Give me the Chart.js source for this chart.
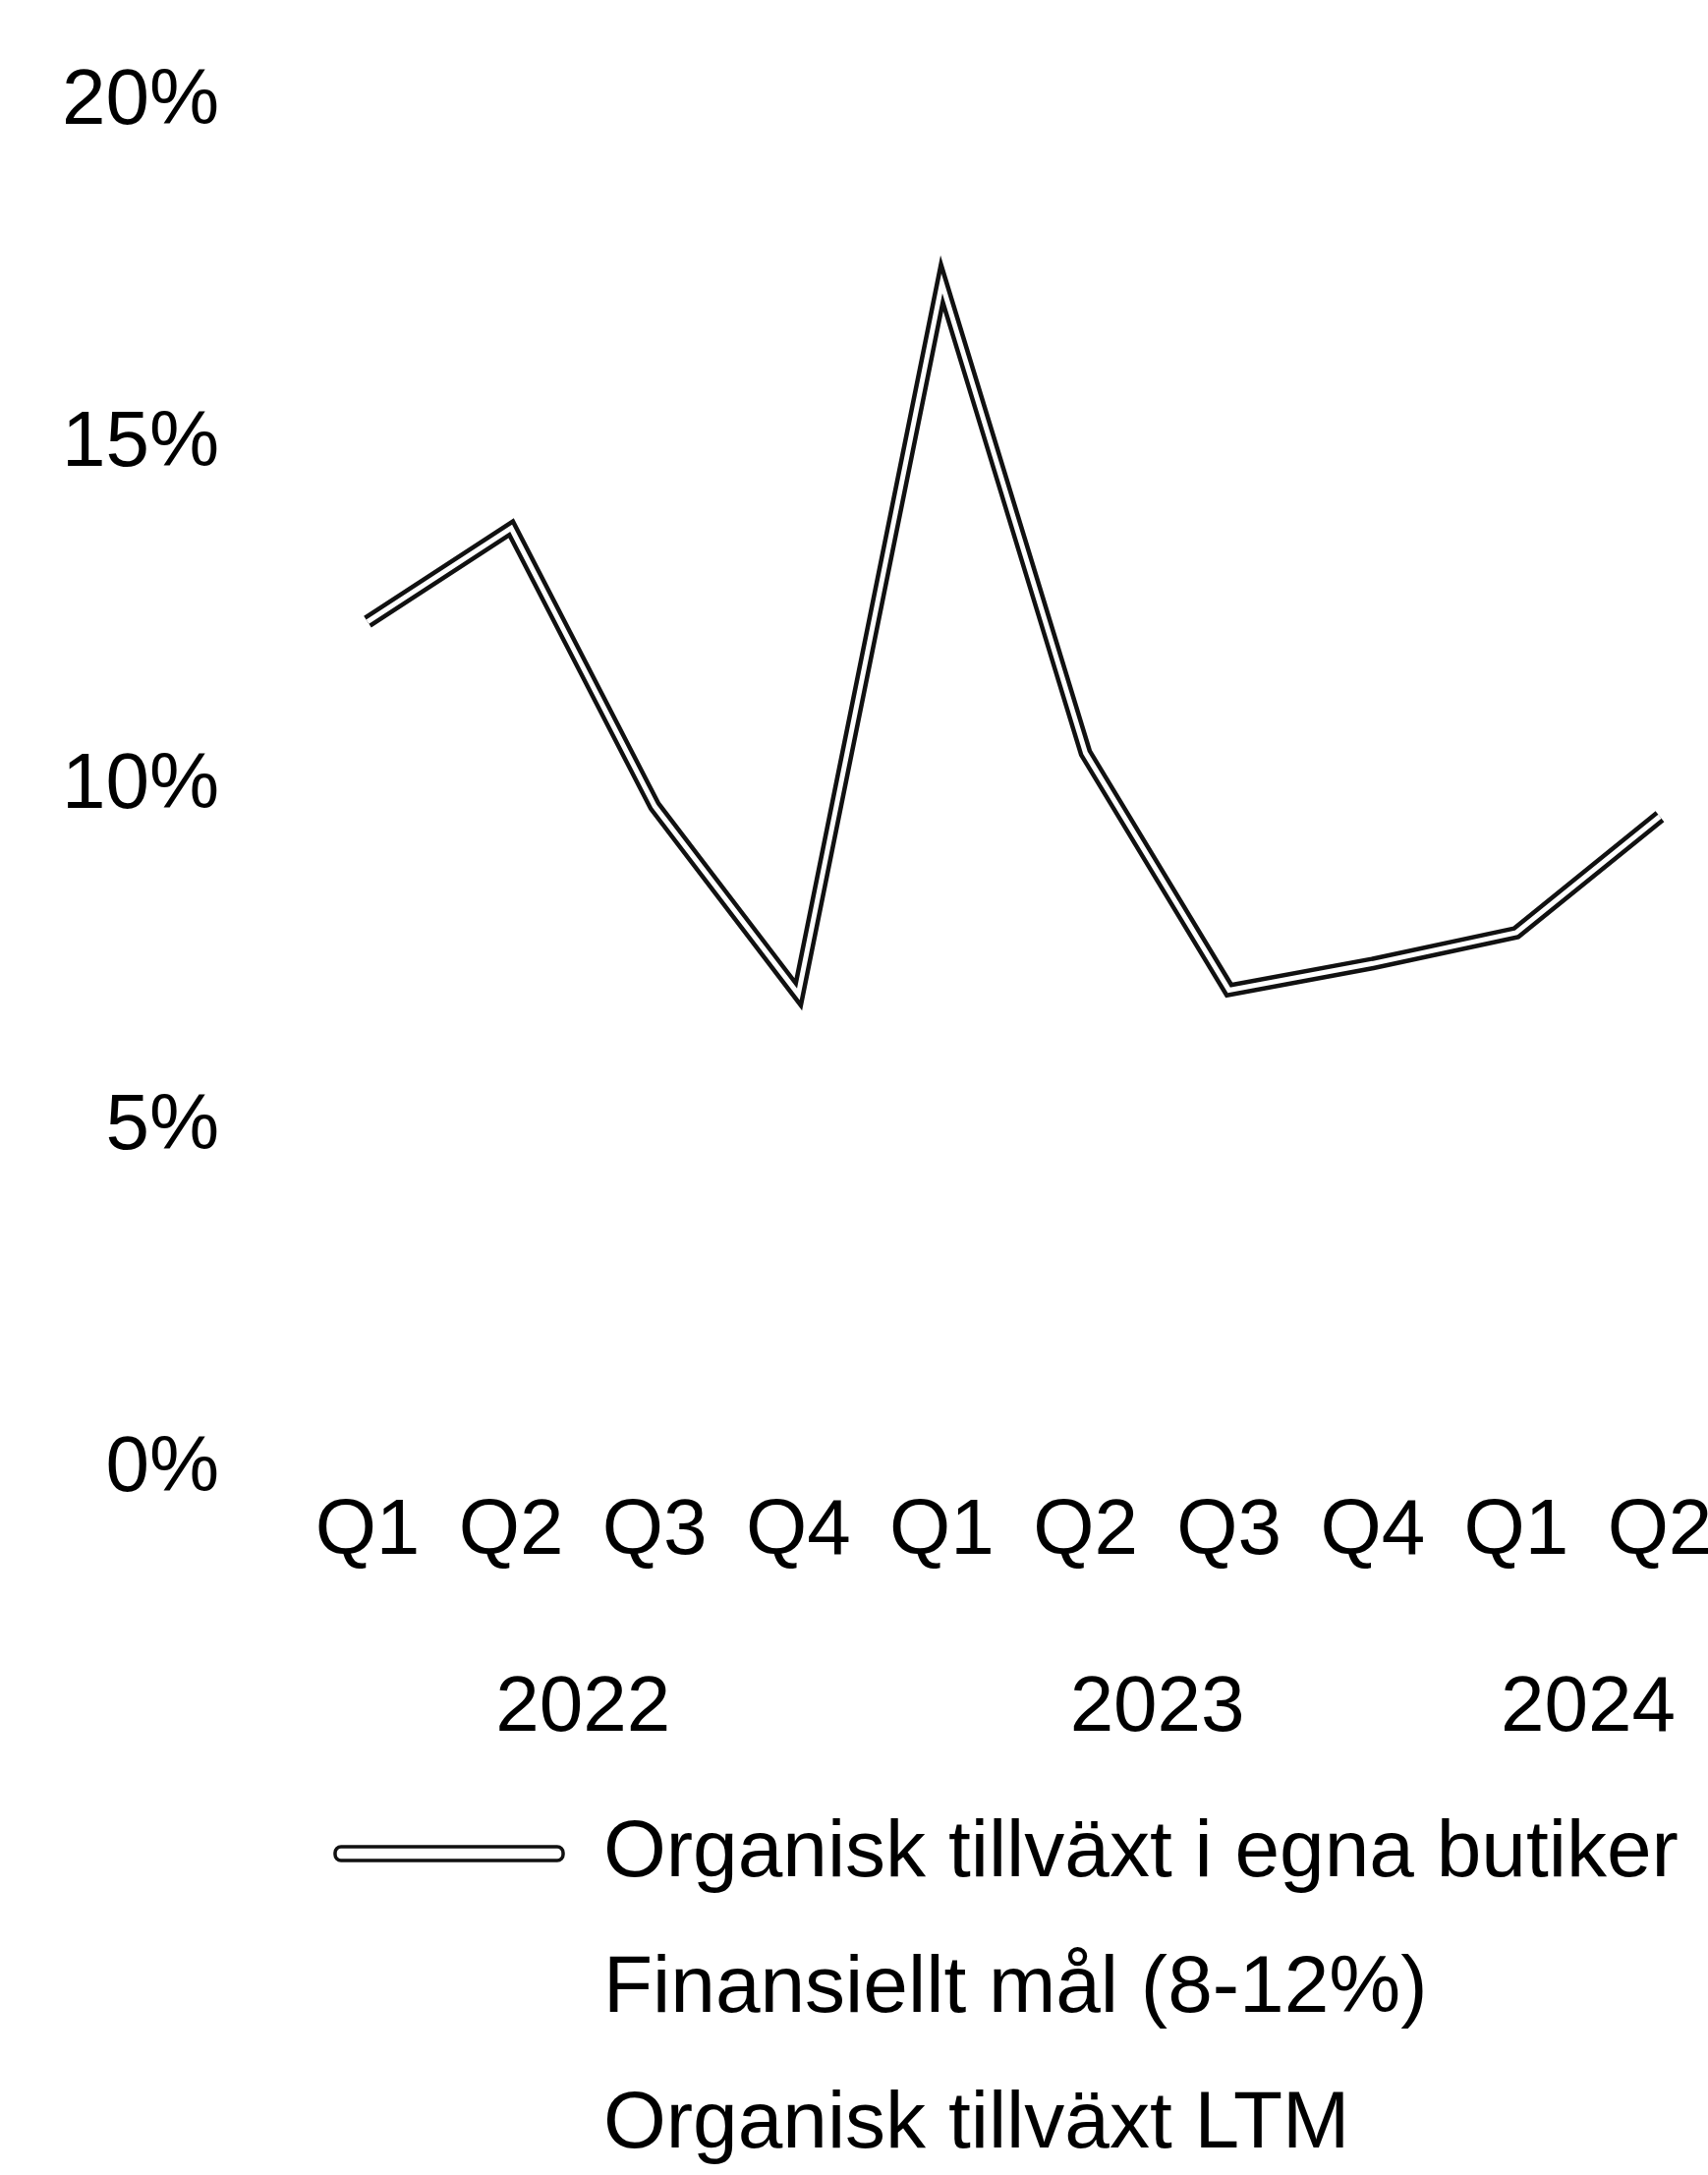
<!DOCTYPE html>
<html>
<head>
<meta charset="utf-8">
<script src="https://cdn.jsdelivr.net/npm/chart.js@4.4.1/dist/chart.umd.min.js"></script>
<style>
  html, body { margin: 0; padding: 0; background: #fff; }
  canvas { display: block; }
</style>
</head>
<body>
<canvas id="chart" width="1738" height="2213"></canvas>
<script>
// ── data ─────────────────────────────────────────
const quarters = ['Q1', 'Q2', 'Q3', 'Q4', 'Q1', 'Q2', 'Q3', 'Q4', 'Q1', 'Q2'];
const years = ['2022', '2023', '2024'];
const quartersPerYear = [4, 4, 2];
const organicGrowth = [12.4, 13.77, 9.7, 6.95, 17.35, 10.48, 7.01, 7.4, 7.85, 9.55];
const financialTarget = [];
const organicGrowthLtm = [];
const seriesNames = ['Organisk tillväxt i egna butiker', 'Finansiellt mål (8-12%)', 'Organisk tillväxt LTM'];

// year labels sit in the middle of their quarters
const yearCenters = [];
let start = 0;
quartersPerYear.forEach(n => { yearCenters.push(start + (n - 1) / 2); start += n; });

const FONT = 'Liberation Sans, Arial, sans-serif';

const ctx = document.getElementById('chart').getContext('2d');
new Chart(ctx, {
    type: 'line',
    data: {
        labels: quarters,
        datasets: [
            {   // dark outline of the hollow line
                label: seriesNames[0],
                data: organicGrowth,
                borderColor: '#111', backgroundColor: '#fff',
                borderWidth: 14, borderJoinStyle: 'miter', borderCapStyle: 'butt',
                pointRadius: 0, tension: 0, order: 1
            },
            {   // white core
                label: '',
                data: organicGrowth,
                borderColor: '#fff', borderWidth: 5,
                borderJoinStyle: 'miter', borderCapStyle: 'butt',
                pointRadius: 0, tension: 0, order: 0
            },
            {
                label: seriesNames[1], data: financialTarget,
                borderColor: 'rgba(0,0,0,0)', backgroundColor: 'rgba(0,0,0,0)',
                borderWidth: 0, pointRadius: 0, order: 2
            },
            {
                label: seriesNames[2], data: organicGrowthLtm,
                borderColor: 'rgba(0,0,0,0)', backgroundColor: 'rgba(0,0,0,0)',
                borderWidth: 0, pointRadius: 0, order: 3
            }
        ]
    },
    options: {
        responsive: false, animation: false, devicePixelRatio: 1,
        layout: { padding: { top: 104, left: 285, right: 0, bottom: 0 } },
        plugins: {
            tooltip: { enabled: false },
            legend: {
                position: 'bottom', align: 'start', maxHeight: 431,
                labels: {
                    font: { size: 82, family: FONT }, color: '#000',
                    boxWidth: 232, boxHeight: 14, padding: 56,
                    useBorderRadius: true, borderRadius: 6,
                    filter: (item) => item.datasetIndex !== 1,
                    generateLabels: (chart) => {
                        const items = Chart.defaults.plugins.legend.labels.generateLabels(chart);
                        items.forEach(it => {
                            if (it.datasetIndex === 0) { it.lineWidth = 3.5; it.strokeStyle = '#111'; it.fillStyle = '#fff'; }
                            else { it.lineWidth = 0; }
                        });
                        return items;
                    }
                }
            }
        },
        scales: {
            y: {
                min: 0, max: 20,
                grid: { display: false }, border: { display: false },
                ticks: {
                    stepSize: 5, mirror: true, crossAlign: 'far', padding: -311,
                    color: '#000', font: { size: 80, family: FONT },
                    callback: (v) => v + '%'
                },
                afterFit: (scale) => { scale.width = 89; scale.paddingTop = 0; scale.paddingBottom = 0; }
            },
            x: {
                offset: false,
                grid: { display: false }, border: { display: false },
                ticks: { autoSkip: false, maxRotation: 0, padding: 8, color: '#000', font: { size: 80, family: FONT } },
                afterFit: (scale) => { scale.height = 157; scale.paddingLeft = 0; scale.paddingRight = 49; }
            },
            x2: {
                type: 'linear', position: 'bottom', min: 0, max: quarters.length - 1,
                grid: { display: false }, border: { display: false },
                afterBuildTicks: (scale) => { scale.ticks = yearCenters.map(v => ({ value: v })); },
                ticks: {
                    autoSkip: false, maxRotation: 0, padding: 31, color: '#000',
                    font: { size: 80, family: FONT },
                    callback: (v) => years[yearCenters.indexOf(v)]
                },
                afterFit: (scale) => { scale.height = 137; scale.paddingLeft = 0; scale.paddingRight = 49; }
            }
        }
    }
});
</script>
</body>
</html>
